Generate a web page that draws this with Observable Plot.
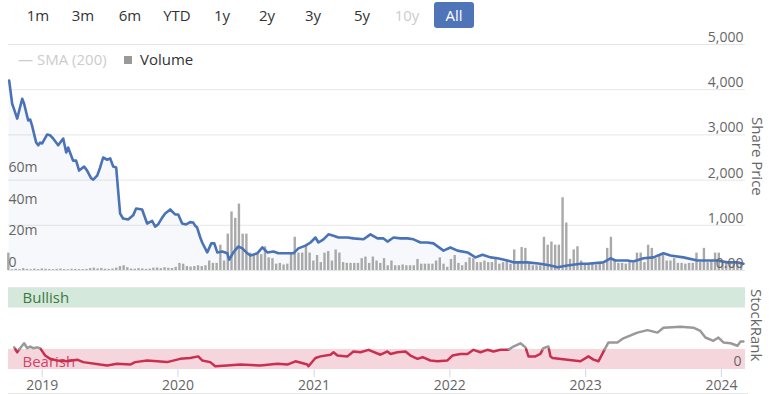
<!DOCTYPE html>
<html><head><meta charset="utf-8">
<script src="https://cdn.jsdelivr.net/npm/d3@7"></script>
<script src="https://cdn.jsdelivr.net/npm/@observablehq/plot@0.6"></script>
<style>
body{margin:0;background:#fff;font-family:"Open Sans",sans-serif;}
#wrap{position:relative;width:769px;height:394px;overflow:hidden;background:#fff;}
.abs{position:absolute;}
.btn{position:absolute;top:2px;height:26px;line-height:26px;font-size:15px;color:#333;transform:translateX(-50%);white-space:nowrap;z-index:5;}
.sel{transform:none;left:434px;width:40px;text-align:center;background:#4f74b8;color:#fff;border-radius:3px;}
.vlab{position:absolute;writing-mode:vertical-rl;font-size:15px;color:#666;line-height:16px;white-space:nowrap;z-index:5;}
#leg{position:absolute;top:49px;left:0;height:20px;line-height:20px;font-size:15px;z-index:5;width:300px;}
</style></head>
<body><div id="wrap">
<div id="btns"></div>
<div id="leg">
 <span class="abs" style="left:18px;color:#ccc;">—</span>
 <span class="abs" style="left:37px;color:#ccc;">SMA (200)</span>
 <span class="abs" style="left:124px;top:7px;width:8px;height:8px;background:#999;"></span>
 <span class="abs" style="left:140px;color:#333;">Volume</span>
</div>
<div id="top" class="abs" style="left:0;top:26px;"></div>
<div id="bottom" class="abs" style="left:0;top:280px;"></div>
<div class="vlab" style="left:750px;top:117px;">Share Price</div>
<div class="vlab" style="left:749px;top:289px;">StockRank</div>
<div class="abs" style="left:8px;top:393px;width:740px;height:1px;background:#e6e6e6;"></div>
</div>
<script>
// ---- range selector labels ----
const rangeButtons = ["1m","3m","6m","YTD","1y","2y","3y","5y","10y","All"];
const rangeCenters = [38,83,130,177,222,267,313,362,407,454];

// ---- share price (decimal year, price) ----
const priceYears = [2018.757,2018.779,2018.794,2018.816,2018.831,2018.853,2018.867,2018.897,2018.912,2018.926,2018.956,2018.971,2018.985,2019.000,2019.037,2019.059,2019.081,2019.118,2019.155,2019.177,2019.191,2019.228,2019.250,2019.272,2019.309,2019.331,2019.361,2019.376,2019.405,2019.427,2019.449,2019.479,2019.501,2019.523,2019.545,2019.574,2019.596,2019.633,2019.670,2019.692,2019.736,2019.773,2019.810,2019.832,2019.854,2019.884,2019.906,2019.943,2019.979,2020.002,2020.031,2020.060,2020.090,2020.112,2020.127,2020.141,2020.164,2020.178,2020.215,2020.245,2020.267,2020.289,2020.326,2020.362,2020.377,2020.407,2020.443,2020.473,2020.510,2020.532,2020.583,2020.620,2020.657,2020.701,2020.738,2020.789,2020.848,2020.885,2020.937,2020.974,2021.010,2021.032,2021.069,2021.106,2021.143,2021.180,2021.246,2021.290,2021.364,2021.415,2021.467,2021.511,2021.541,2021.585,2021.636,2021.688,2021.732,2021.784,2021.835,2021.879,2021.953,2022.004,2022.056,2022.130,2022.189,2022.240,2022.299,2022.351,2022.424,2022.468,2022.572,2022.667,2022.741,2022.792,2022.866,2022.962,2023.013,2023.131,2023.183,2023.220,2023.308,2023.352,2023.426,2023.499,2023.573,2023.625,2023.720,2023.823,2023.897,2023.971,2024.044,2024.118,2024.162];
const priceValues = [4200,3690,3560,3360,3540,3800,3690,3320,3340,3200,2830,2770,2830,2810,3010,2990,2920,2770,2920,2610,2720,2430,2430,2210,2300,2210,2040,2010,2100,2280,2500,2450,2480,2300,2280,1260,1150,1130,1220,1370,1350,1040,1100,970,1020,1170,1260,1350,1240,1240,1040,1020,1070,1060,990,950,730,620,400,600,600,400,420,380,240,400,530,490,380,330,380,510,400,420,380,380,380,490,550,620,730,620,690,800,770,730,730,710,690,800,710,710,640,730,710,710,690,620,620,600,440,510,440,400,290,350,290,270,220,180,180,150,110,70,110,150,150,180,270,220,220,200,270,290,380,330,290,220,220,220,180,180,150];
const priceTicks = [0,1000,2000,3000,4000,5000];

// ---- volume (millions), one bar every 10 days from 2018-10-02 ----
const volumeStart = "2018-10-02";
const volumeStepDays = 10;
const volumeValues = [
 11,0.5,0.8,0.6,1.2,0.7,0.5,0.9,0.6,1.0,
 0.8,0.6,0.5,0.7,0.9,0.6,0.5,0.8,0.7,0.6,
 0.6,0.7,1.2,1.5,1.0,1.3,0.8,0.7,0.9,1.5,
 2.5,3,1.8,0.9,0.8,1.2,1.0,0.7,0.9,1.5,
 1.6,1.2,1.8,1.4,1.3,2.0,4.5,4.0,2.5,2.2,
 2.5,3,2.5,3,6,4.5,4.5,16,6,23,
 37,33,42,23,23,11,10,10,10,15,
 8,7.5,4,4.5,3.5,4,11,21,11,11,
 16,11,6,9.5,5,11,12,6,13,11,
 5,4.5,4.5,4.5,4.5,7.5,8.5,4.5,8.5,6,
 4.5,7.5,3,6,3,3,3.5,3,3,3,
 7,4,4,4,4,6,8,4,2,7,
 9.5,4.5,3,5,8,7.5,5,5,6,5,
 5,7,4,5,6,4,13,5,14.5,14,
 4,3,3,3,21,16,18,16,16,46,
 30,7,13,15,6,4,4,4.5,3.5,4,
 4,14,21,6,4.5,4.5,4,5,4.5,11,
 11,5,16,14,7.5,9.5,9.5,6,6,7.5,
 4.5,4.5,4,4.5,4.5,11,5,14,5,6,
 11,11,5,4.5,4.5,4,4.5,4.5];
const volumeTicks = [0,20,40,60];

// ---- StockRank ----
const rankYears = [2018.794,2018.816,2018.838,2018.867,2018.890,2018.912,2018.934,2018.963,2018.985,2019.022,2019.059,2019.110,2019.184,2019.258,2019.302,2019.427,2019.479,2019.552,2019.648,2019.685,2019.773,2019.847,2019.920,2020.016,2020.090,2020.149,2020.178,2020.237,2020.274,2020.362,2020.458,2020.605,2020.731,2020.804,2020.863,2020.951,2020.959,2021.010,2021.047,2021.121,2021.143,2021.172,2021.246,2021.290,2021.342,2021.401,2021.489,2021.541,2021.563,2021.614,2021.673,2021.710,2021.762,2021.799,2021.857,2021.909,2021.982,2022.019,2022.078,2022.130,2022.174,2022.225,2022.277,2022.321,2022.373,2022.432,2022.468,2022.520,2022.557,2022.579,2022.630,2022.667,2022.689,2022.726,2022.741,2022.756,2022.866,2022.962,2023.021,2023.058,2023.094,2023.168,2023.234,2023.278,2023.381,2023.455,2023.529,2023.573,2023.698,2023.794,2023.845,2023.882,2023.941,2023.978,2024.015,2024.067,2024.118,2024.140,2024.162];
const rankValues = [27,21,26,32,26,28,26,27,26,17,13,11,10,12,9,6,5,7,6,9,11,10,9,13,14,16,11,9,4,5,6,5,7,6,10,6,4,14,16,18,21,17,16,22,21,24,18,22,19,21,22,17,13,15,11,10,11,17,19,19,24,21,24,22,24,24,28,32,27,16,16,19,26,28,16,14,12,10,16,12,10,33,33,38,45,48,45,51,52,51,47,39,35,39,33,32,29,34,34];
const bandLabels = ["Bullish","Bearish"];
const bandLow = [75,0];
const bandHigh = [100,24.5];
const bandLabelAt = [87,9];
const bandFill = ["#d5e8dc","#f5d6dd"];
const bandText = ["#3c7a3c","#d14467"];
const rankThreshold = 24.5;
const yearTicks = [2019,2020,2021,2022,2023,2024];

// ---- build ----
const yr = t => {const y=Math.floor(t); const s=Date.UTC(y,0,1), e=Date.UTC(y+1,0,1); return new Date(s+(t-y)*(e-s));};
const xDomain = [yr(2018.752), yr(2024.177)];
const K = 35; // price units per million shares (shared vertical scale)

const btns = document.getElementById("btns");
rangeButtons.forEach((b,i)=>{
  const d=document.createElement("div");
  d.className="btn"+(b==="All"?" sel":"");
  if(b!=="All") d.style.left=rangeCenters[i]+"px";
  if(b==="10y") d.style.color="#ccc";
  d.textContent=b; btns.appendChild(d);
});

const price = priceYears.map((t,i)=>({date:yr(t), value:priceValues[i]}));
const vs = Date.parse(volumeStart+"T00:00:00Z");
const vol = volumeValues.map((v,i)=>({date:new Date(vs+i*volumeStepDays*864e5), v, y:v*K}));

const style = {fontFamily:"'Open Sans',sans-serif", fontSize:"14px", color:"#666", background:"transparent", overflow:"visible"};

const topPlot = Plot.plot({
  width:769, height:254, marginLeft:8, marginRight:24, marginTop:18, marginBottom:10,
  style,
  x:{type:"utc", domain:xDomain, axis:null},
  y:{domain:[0,5000]},
  marks:[
    Plot.gridY(priceTicks,{stroke:"#e6e6e6", strokeOpacity:1}),
    Plot.areaY(price,{x:"date", y:"value", fill:"#4572b8", fillOpacity:0.05}),
    Plot.ruleX(vol,{x:"date", y1:0, y2:"y", stroke:"#a9a9a9", strokeWidth:2.4}),
    Plot.lineY(price,{x:"date", y:"value", stroke:"#4a73b7", strokeWidth:2.6}),
    Plot.axisY(priceTicks,{anchor:"right", tickSize:0, tickPadding:0, textAnchor:"end", dx:-2, dy:-7, fill:"#666",
      tickFormat:d=>d===0?"0.00":d3.format(",")(d)}),
    Plot.axisY(volumeTicks.map(v=>v*K),{anchor:"left", tickSize:0, tickPadding:0, textAnchor:"start", dy:-8, fill:"#666",
      tickFormat:d=>{const m=Math.round(d/K); return m===0?"0":m+"m";}})
  ]
});
document.getElementById("top").appendChild(topPlot);

// StockRank segments coloured by zone
const pts = rankYears.map((t,i)=>({t, v:rankValues[i]}));
const segs=[]; let seg=0;
const col = v => v<rankThreshold ? "#c9304f" : "#999999";
pts.forEach((p,i)=>{
  if(i>0){
    const q=pts[i-1];
    if(col(q.v)!==col(p.v)){
      const f=(rankThreshold-q.v)/(p.v-q.v);
      const tc=q.t+f*(p.t-q.t);
      segs.push({date:yr(tc), value:rankThreshold, seg, color:col(q.v)});
      seg++;
      segs.push({date:yr(tc), value:rankThreshold, seg, color:col(p.v)});
    }
  }
  segs.push({date:yr(p.t), value:p.v, seg, color:col(p.v)});
});
const bands = bandLabels.map((l,i)=>({label:l, lo:bandLow[i], hi:bandHigh[i], at:bandLabelAt[i], fill:bandFill[i], tfill:bandText[i]}));

const bottomPlot = Plot.plot({
  width:769, height:114, marginLeft:8, marginRight:24, marginTop:7, marginBottom:25,
  style,
  x:{type:"utc", domain:xDomain},
  y:{domain:[0,100]},
  color:{type:"identity"},
  marks:[
    Plot.rect(bands,{x1:()=>xDomain[0], x2:()=>xDomain[1], y1:"lo", y2:"hi", fill:"fill"}),
    Plot.ruleY([100],{stroke:"#e6e6e6"}),
    Plot.text(bands,{x:()=>xDomain[0], y:"at", text:"label", fill:"tfill", textAnchor:"start", dx:14, fontSize:15}),
    Plot.line(segs,{x:"date", y:"value", z:"seg", stroke:"color", strokeWidth:2.5}),
    Plot.axisY([0],{anchor:"right", tickSize:0, tickPadding:0, textAnchor:"end", dx:-4, dy:-8, fill:"#666"}),
    Plot.axisX(yearTicks.map(y=>new Date(Date.UTC(y,0,1))),{tickSize:8, tickPadding:3, stroke:"#ccd6eb", fill:"#666",
      tickFormat:d=>String(d.getUTCFullYear())})
  ]
});
document.getElementById("bottom").appendChild(bottomPlot);
</script>
</body></html>
